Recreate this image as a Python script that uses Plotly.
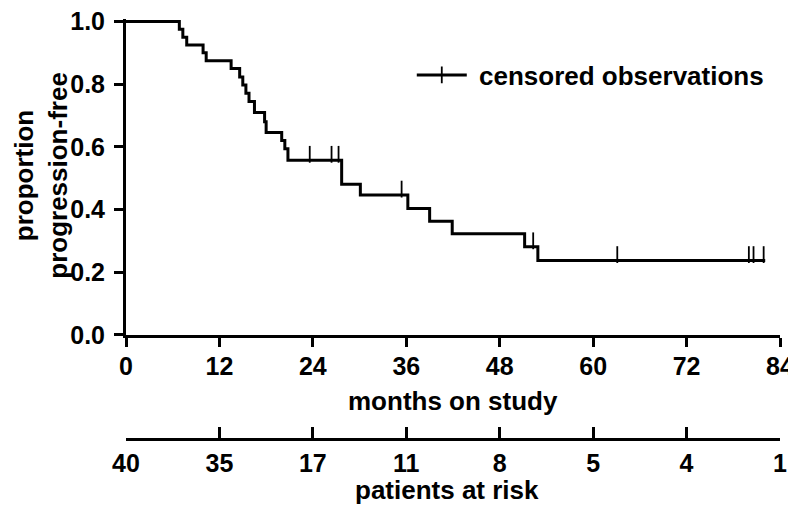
import plotly.graph_objects as go

# Kaplan-Meier steps (months, proportion progression-free)
event_months = [0, 6.85, 7.3, 7.8, 9.9, 10.3, 13.5, 14.6, 15.0, 15.4, 15.8, 16.5,
                17.8, 18.0, 20.0, 20.4, 20.8, 27.7, 30.1, 36.2, 39.0, 41.9, 51.2, 52.9]
surv_values = [1.0, 0.975, 0.95, 0.925, 0.90, 0.875, 0.85, 0.823, 0.797, 0.771, 0.745, 0.71,
               0.68, 0.646, 0.62, 0.594, 0.557, 0.481, 0.446, 0.403, 0.3625, 0.323, 0.281, 0.237]
last_followup = 82.1

censor_months = [23.6, 26.4, 27.3, 35.4, 52.3, 63.1, 80.0, 80.6, 81.9]

risk_months = [0, 12, 24, 36, 48, 60, 72, 84]
risk_counts = ["40", "35", "17", "11", "8", "5", "4", "1"]

x_title = "months on study"
y_title = "proportion<br>progression-free"
risk_title = "patients at risk"
legend_label = "censored observations"

# build step path
sx, sy = [], []
for i, (t, s) in enumerate(zip(event_months, surv_values)):
    if i > 0:
        sx.append(t)
        sy.append(surv_values[i - 1])
    sx.append(t)
    sy.append(s)
sx.append(last_followup)
sy.append(surv_values[-1])


def surv_at(t):
    val = surv_values[0]
    for et, s in zip(event_months, surv_values):
        if et <= t:
            val = s
    return val


FONT = "Liberation Sans"
BLACK = "#000000"

# page body adds an 8px offset; figure coordinates are screen - 8
W, H = 788, 502
L, R = 118, 15.5
Y_ONE_PX, Y_ZERO_PX = 14, 327          # figure-pixel rows of 1.0 and 0.0
RISK_PX = 430                          # figure-pixel row of the at-risk axis
PX_PER_UNIT = Y_ZERO_PX - Y_ONE_PX
Y_TOP = 1.008
tick_half = 6.0 / PX_PER_UNIT

cx, cy = [], []
for t in censor_months:
    cx += [t, None]
    cy += [surv_at(t) + tick_half, None]

top_margin = Y_ONE_PX - PX_PER_UNIT * (Y_TOP - 1.0)
bottom_margin = H - RISK_PX
plot_h = H - top_margin - bottom_margin
plot_w = W - L - R
main_bottom = (RISK_PX - Y_ZERO_PX) / plot_h


def px_x(p):
    return (p - L) / plot_w


def px_y(p):
    return (RISK_PX - p) / plot_h


fig = go.Figure()
fig.add_trace(go.Scatter(x=sx, y=sy, mode="lines", line=dict(color=BLACK, width=3),
                         showlegend=False, hoverinfo="skip", xaxis="x", yaxis="y"))
fig.add_trace(go.Scatter(x=cx, y=cy, mode="lines+markers", name="\u00a0" + legend_label,
                         line=dict(color=BLACK, width=3),
                         marker=dict(symbol="line-ns", size=12, color=BLACK,
                                     line=dict(color=BLACK, width=1.8)),
                         showlegend=True, hoverinfo="skip", cliponaxis=False,
                         xaxis="x", yaxis="y"))
# patients-at-risk row (hover only, labels drawn by axis ticks)
fig.add_trace(go.Scatter(x=risk_months, y=[0.5] * len(risk_months), mode="markers",
                         marker=dict(size=1, opacity=0), text=risk_counts,
                         hovertemplate="%{x} months: %{text} at risk<extra></extra>",
                         showlegend=False, xaxis="x2", yaxis="y2"))

title_font = dict(family=FONT, size=26, color=BLACK, weight="bold")
tick_font = dict(family=FONT, size=25, color=BLACK, weight="bold")

fig.update_layout(
    width=W, height=H,
    margin=dict(l=L, r=R, t=top_margin, b=bottom_margin, autoexpand=False),
    paper_bgcolor="white", plot_bgcolor="white",
    font=dict(family=FONT, size=25, color=BLACK, weight="bold"),
    showlegend=True,
    legend=dict(x=px_x(404), y=px_y(44), xanchor="left", yanchor="top",
                bgcolor="rgba(0,0,0,0)", font=title_font, itemwidth=50),
    xaxis=dict(domain=[0, 1], range=[0, 84], anchor="y", tickvals=risk_months,
               showline=True, linecolor=BLACK, linewidth=3, mirror=False,
               ticks="outside", ticklen=9, tickwidth=2.5, tickcolor=BLACK,
               showgrid=False, zeroline=False, ticklabelstandoff=-2,
               ticklabeloverflow="allow", tickfont=tick_font),
    yaxis=dict(domain=[main_bottom, 1], range=[0, Y_TOP], anchor="x",
               tickvals=[0, 0.2, 0.4, 0.6, 0.8, 1.0], tickformat=".1f",
               showline=True, linecolor=BLACK, linewidth=3,
               ticks="outside", ticklen=9, tickwidth=2.5, tickcolor=BLACK,
               showgrid=False, zeroline=False, ticklabelstandoff=4,
               ticklabeloverflow="allow", tickfont=tick_font),
    xaxis2=dict(domain=[0, 1], range=[0, 84], anchor="y2", side="bottom",
                tickvals=risk_months, ticktext=risk_counts,
                showline=True, linecolor=BLACK, linewidth=3,
                ticks="inside", ticklen=11, tickwidth=2.5, tickcolor=BLACK,
                showgrid=False, zeroline=False, ticklabelstandoff=1,
                ticklabeloverflow="allow", tickfont=tick_font),
    yaxis2=dict(domain=[0, 0.001], range=[0, 1], anchor="x2", visible=False,
                showgrid=False, zeroline=False),
    annotations=[
        dict(text=x_title, xref="paper", yref="paper", x=px_x(445), y=px_y(393),
             xanchor="center", yanchor="middle", showarrow=False, font=title_font),
        dict(text=risk_title, xref="paper", yref="paper", x=px_x(439), y=px_y(482),
             xanchor="center", yanchor="middle", showarrow=False, font=title_font),
        dict(text=y_title, xref="paper", yref="paper", x=px_x(33), y=px_y(168),
             xanchor="center", yanchor="middle", textangle=-90, showarrow=False,
             font=title_font),
    ],
)

fig.write_html("out.html")
